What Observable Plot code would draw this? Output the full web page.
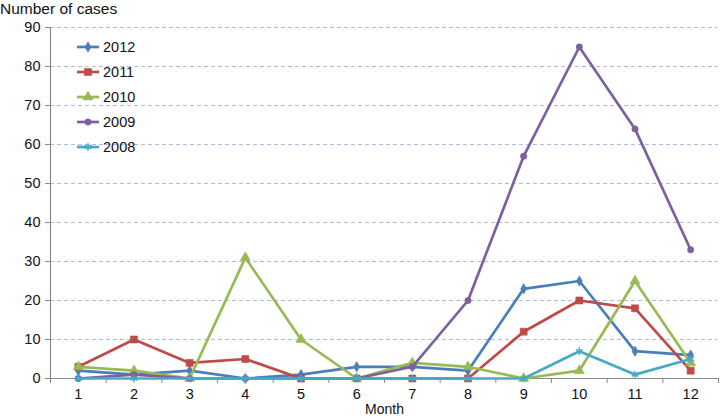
<!DOCTYPE html>
<html><head><meta charset="utf-8">
<script src="https://cdn.jsdelivr.net/npm/d3@7"></script>
<script src="https://cdn.jsdelivr.net/npm/@observablehq/plot@0.6"></script>
<style>
body{margin:0;background:#fff;font-family:"Liberation Sans",Arial,sans-serif;}
#wrap{position:relative;width:720px;height:418px;}
#title{position:absolute;left:0;top:0;font-size:15.5px;line-height:18px;color:#111;}
#legend{position:absolute;left:76px;top:35px;font-size:14.5px;color:#111;}
#legend .item{display:flex;align-items:center;height:24.8px;}
#legend svg{margin-right:3px;}
</style></head>
<body>
<div id="wrap"><div id="title">Number of cases</div><div id="legend"></div></div>
<script>
const months = [1,2,3,4,5,6,7,8,9,10,11,12];
const seriesNames = ["2012","2011","2010","2009","2008"];
const seriesColors = ["#4a7ebb","#be4b48","#98b954","#7d60a0","#46aac5"];
const seriesSymbols = ["diamond","square","triangle","circle","asterisk"];
const seriesRadius = [3.2,4,3.8,3.2,3.6];
const cases2012 = [2,1,2,0,1,3,3,2,23,25,7,6];
const cases2011 = [3,10,4,5,0,0,0,0,12,20,18,2];
const cases2010 = [3,2,0,31,10,0,4,3,0,2,25,4];
const cases2009 = [0,1,0,0,0,0,3,20,57,85,64,33];
const cases2008 = [0,0,0,0,0,0,0,0,0,7,1,5];
const yTicks = [0,10,20,30,40,50,60,70,80,90];
const xBoundaries = [0.5,1.5,2.5,3.5,4.5,5.5,6.5,7.5,8.5,9.5,10.5,11.5,12.5];

const allValues = [cases2012,cases2011,cases2010,cases2009,cases2008];
const seriesMarks = [];
allValues.forEach((vals,i)=>{
  const data = months.map((m,j)=>({month:m, value:vals[j]}));
  seriesMarks.push(Plot.line(data,{x:"month",y:"value",stroke:seriesColors[i],strokeWidth:2.7}));
  const sym = seriesSymbols[i];
  const hollow = sym==="asterisk";
  seriesMarks.push(Plot.dot(data,{x:"month",y:"value",symbol:sym,r:seriesRadius[i],
    fill: hollow?"none":seriesColors[i], stroke:seriesColors[i], strokeWidth: hollow?1.5:0.5}));
});

const chart = Plot.plot({
  width:720, height:418,
  marginTop:27, marginBottom:40, marginLeft:50, marginRight:2,
  style:{fontFamily:'"Liberation Sans",Arial,sans-serif', fontSize:"14.5px", color:"#111", background:"#fff"},
  x:{domain:[0.5,12.5], axis:null},
  y:{domain:[0,90], axis:null},
  marks:[
    Plot.ruleY(yTicks.filter(d=>d>0),{stroke:"#a9bde0",strokeDasharray:"4,3",strokeWidth:1}),
    Plot.axisY(yTicks,{tickSize:5,tickPadding:5,stroke:"#8a8a8a",label:null}),
    Plot.axisX(xBoundaries,{tickSize:5,text:null,stroke:"#8a8a8a",label:null}),
    Plot.axisX(months,{tickSize:0,tickPadding:10,label:null}),
    Plot.ruleX([0.5],{stroke:"#8a8a8a",strokeWidth:1.2}),
    Plot.ruleY([0],{stroke:"#8a8a8a",strokeWidth:1.2}),
    ...seriesMarks,
    Plot.text(["Month"],{frameAnchor:"bottom",dy:35,fontSize:14,fill:"#111"})
  ]
});
document.getElementById("wrap").appendChild(chart);
chart.style.display="block";

const legend = d3.select("#legend");
seriesNames.forEach((name,i)=>{
  const item = legend.append("div").attr("class","item");
  const svg = item.append("svg").attr("width",24).attr("height",12);
  svg.append("line").attr("x1",1).attr("x2",23).attr("y1",6).attr("y2",6)
    .attr("stroke",seriesColors[i]).attr("stroke-width",2.7);
  const symMap = {diamond:d3.symbolDiamond,square:d3.symbolSquare,triangle:d3.symbolTriangle,circle:d3.symbolCircle,asterisk:d3.symbolAsterisk};
  const r = seriesRadius[i];
  const hollow = seriesSymbols[i]==="asterisk";
  svg.append("path").attr("transform","translate(12,6)")
    .attr("d",d3.symbol(symMap[seriesSymbols[i]], Math.PI*r*r)())
    .attr("fill",hollow?"none":seriesColors[i]).attr("stroke",seriesColors[i]).attr("stroke-width",hollow?1.5:0.5);
  item.append("span").text(name);
});
</script>
</body></html>
